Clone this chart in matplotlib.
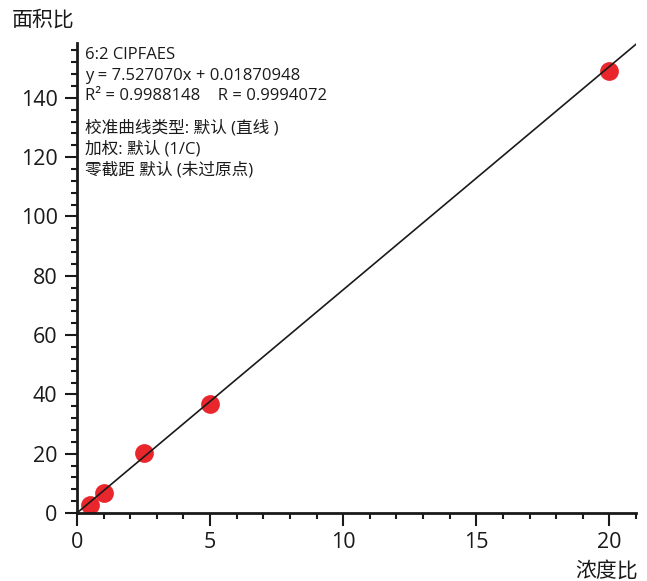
import matplotlib
matplotlib.use("Agg")
import matplotlib.pyplot as plt
import numpy as np
from matplotlib.ticker import MultipleLocator

plt.rcParams['font.family'] = ['Open Sans', 'Noto Sans CJK SC', 'DejaVu Sans']

# Calibration points (concentration ratio vs area ratio)
conc_ratio = [0.5, 1.0, 2.5, 5.0, 20.0]
area_ratio = [2.8, 6.9, 20.1, 36.8, 148.9]

# Fitted line
slope = 7.527070
intercept = 0.01870948

info_lines = [
    "6:2 ClPFAES",
    "y = 7.527070x + 0.01870948",
    "R² = 0.9988148    R = 0.9994072",
]
info_lines2 = [
    "校准曲线类型: 默认 (直线 )",
    "加权: 默认 (1/C)",
    "零截距 默认 (未过原点)",
]

fig = plt.figure(figsize=(6.47, 5.81), dpi=100)
ax = fig.add_axes([0.119, 0.117, 0.864, 0.809])

xs = np.array([0, 21.0])
ax.plot(xs, slope * xs + intercept, color='#1a1a1a', lw=1.2, zorder=3)
ax.plot(conc_ratio, area_ratio, 'o', color='#e8262b', markersize=13.5,
        markeredgewidth=0, zorder=2)

ax.set_xlim(0, 21.0)
ax.set_ylim(0, 158.5)

for s in ['top', 'right']:
    ax.spines[s].set_visible(False)
for s in ['left', 'bottom']:
    ax.spines[s].set_linewidth(2)
    ax.spines[s].set_color('#1a1a1a')

ax.xaxis.set_major_locator(MultipleLocator(5))
ax.xaxis.set_minor_locator(MultipleLocator(1))
ax.yaxis.set_major_locator(MultipleLocator(20))
ax.yaxis.set_minor_locator(MultipleLocator(4))
ax.tick_params(which='major', length=9, width=1.5, labelsize=15.5, colors='#1a1a1a', pad=5)
ax.tick_params(which='minor', length=4, width=1.5, colors='#1a1a1a')

fig.text(12 / 647, 1 - 20 / 581, "面积比", fontsize=15, va='center', ha='left', color='#1a1a1a')
fig.text(638 / 647, 1 - 571 / 581, "浓度比", fontsize=15, va='center', ha='right', color='#1a1a1a')

y0 = 55
for i, t in enumerate(info_lines):
    fig.text(85 / 647, 1 - (y0 + i * 20.5) / 581, t, fontsize=12, va='center', ha='left', color='#1a1a1a')
y1 = 128
for i, t in enumerate(info_lines2):
    fig.text(85 / 647, 1 - (y1 + i * 21) / 581, t, fontsize=12, va='center', ha='left', color='#1a1a1a')

fig.savefig("out.png", dpi=100)
